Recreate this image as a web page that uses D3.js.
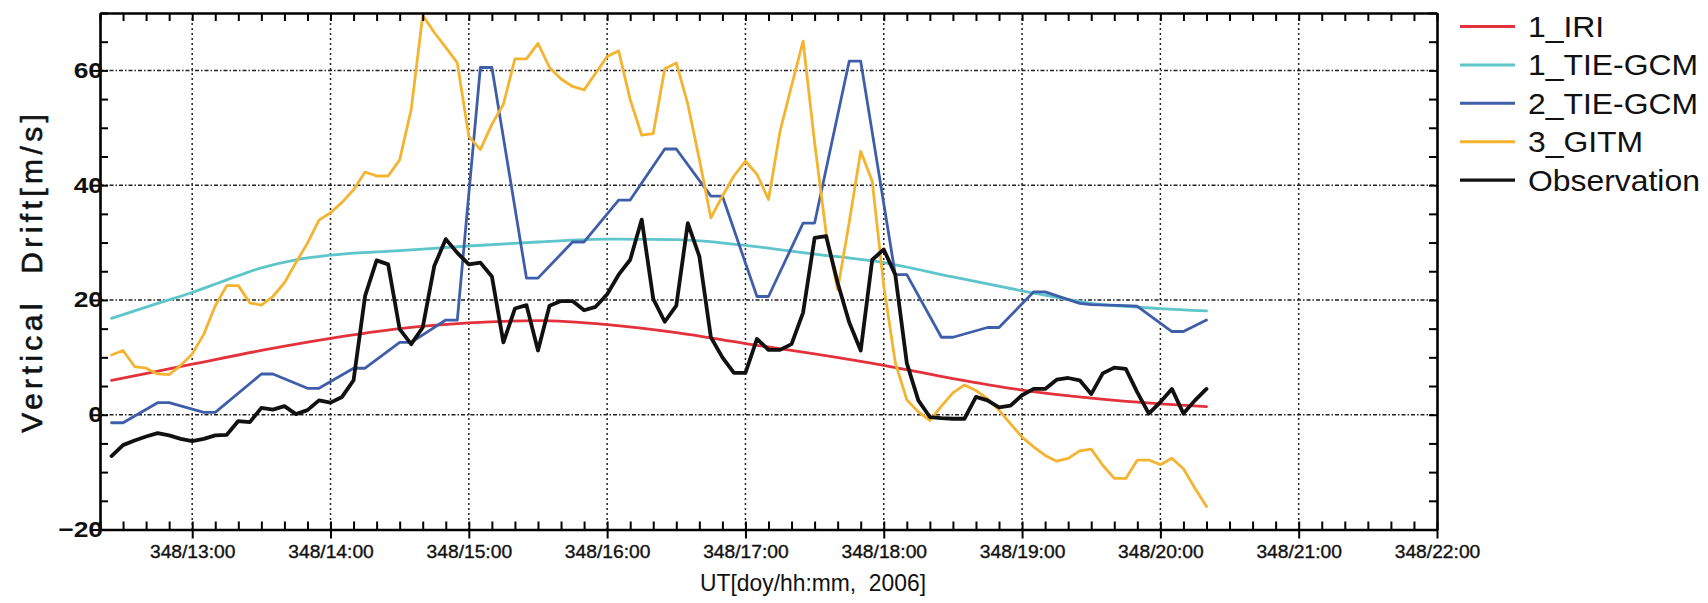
<!DOCTYPE html>
<meta charset="utf-8">
<style>
body { margin: 0; background: #fff; }
svg { display: block; font-family: "Liberation Sans", Arial, sans-serif; }
.axis path, .axis line { fill: none; stroke: #000; }
.axis path { stroke-width: 2.6; }
.axis line { stroke-width: 2; }
.grid line { stroke: #222; stroke-width: 1.5; }
.series { fill: none; stroke-linejoin: round; stroke-linecap: round; }
</style>
<body>
<script src="https://cdn.jsdelivr.net/npm/d3@7"></script>
<script>
// day 348 of 2006 = 14 Dec
var dayStart = Date.UTC(2006, 11, 14);
function ut(s) {
  var p = s.split(":");
  return new Date(dayStart + (+p[0] * 60 + +p[1]) * 60000);
}

// 5 minute sample times, 12:25 .. 20:20 (96 samples)
var t5 = d3.utcMinute.every(5).range(ut("12:25"), ut("20:25"));

var obsVals = [
  -7.2, -5.3, -4.5, -3.8, -3.2, -3.6, -4.2,
  -4.6, -4.2, -3.6, -3.5, -1.1, -1.3, 1.2, 0.9, 1.5, 0.1, 0.8, 2.5,
  2.1, 3.1, 6.0, 20.7, 26.9, 26.2, 14.9, 12.3, 15.2, 25.9, 30.6, 28.2,
  26.2, 26.5, 24.1, 12.6, 18.5, 19.1, 11.2, 19.0, 19.8, 19.8, 18.2, 18.8,
  21.0, 24.4, 27.0, 34.0, 20.2, 16.2, 19.0, 33.4, 27.6, 13.5, 10.0, 7.3,
  7.3, 13.2, 11.3, 11.3, 12.3, 17.8, 30.8, 31.1, 23.0, 16.1, 11.2, 27.0,
  28.8, 24.4, 9.0, 2.5, -0.4, -0.6, -0.7, -0.7, 3.1, 2.5, 1.3, 1.6,
  3.4, 4.5, 4.5, 6.1, 6.4, 6.0, 3.6, 7.2, 8.2, 8.0, 3.9, 0.2,
  2.2, 4.5, 0.2, 2.5, 4.5
];

var gitmVals = [
  10.4, 11.2, 8.4, 8.1, 7.1, 7.0, 8.6,
  10.6, 14.0, 19.0, 22.5, 22.5, 19.5, 19.1, 20.6, 23.0, 26.5, 29.9, 33.9,
  35.2, 37.0, 39.2, 42.3, 41.6, 41.6, 44.4, 53.2, 69.6, 66.6, 64.0, 61.3,
  48.5, 46.2, 50.6, 54.1, 62.0, 62.0, 64.7, 60.5, 58.5, 57.2, 56.6, 59.5,
  62.4, 63.4, 54.9, 48.7, 49.0, 60.3, 61.3, 54.1, 44.5, 34.3, 38.1, 41.6,
  44.2, 41.9, 37.5, 49.4, 57.3, 65.1, 47.4, 31.7, 21.8, 33.5, 45.9, 40.7,
  22.4, 9.1, 2.6, 0.5, -1.0, 1.5, 3.8, 5.2, 4.2, 2.8, 0.8, -1.6,
  -3.9, -5.6, -7.1, -8.1, -7.6, -6.3, -6.0, -8.8, -11.1, -11.1, -7.9, -7.9,
  -8.7, -7.6, -9.4, -12.8, -16.0
];

var tie2Times = ["12:25", "12:30", "12:45", "12:50", "13:05", "13:10", "13:30", "13:35",
  "13:50", "13:55", "14:10", "14:15", "14:30", "14:35", "14:50", "14:55",
  "15:05", "15:10", "15:25", "15:30", "15:45", "15:50", "16:05", "16:10",
  "16:25", "16:30", "16:45", "16:50", "17:05", "17:10", "17:25", "17:30",
  "17:45", "17:50", "18:05", "18:10", "18:25", "18:30", "18:45", "18:50",
  "19:05", "19:10", "19:25", "19:30", "19:45", "19:50", "20:05", "20:10", "20:20"];
var tie2Vals = [-1.4, -1.4, 2.1, 2.1, 0.4, 0.4, 7.1, 7.1,
  4.6, 4.6, 8.1, 8.1, 12.6, 12.6, 16.5, 16.5,
  60.5, 60.5, 23.8, 23.8, 30.1, 30.1, 37.4, 37.4,
  46.3, 46.3, 38.1, 38.1, 20.6, 20.6, 33.4, 33.4,
  61.6, 61.6, 24.4, 24.4, 13.5, 13.5, 15.2, 15.2,
  21.4, 21.4, 19.4, 19.2, 19.0, 18.9, 14.5, 14.5, 16.5];

var iriTimes = ["12:25", "13:00", "13:30", "14:00", "14:30", "15:00", "15:30", "16:00", "16:30",
  "17:00", "17:30", "18:00", "18:30", "19:00", "19:30", "20:00", "20:20"];
var iriVals = [6.0, 8.8, 11.2, 13.3, 15.0, 16.0, 16.4, 15.7, 14.3,
  12.4, 10.6, 8.6, 6.3, 4.3, 2.9, 1.9, 1.4];

var tie1Times = ["12:25", "12:45", "13:00", "13:15", "13:30", "13:45", "14:00", "14:30", "15:00",
  "15:30", "16:00", "16:30", "17:00", "17:30", "18:00", "18:30", "19:00", "19:30", "20:00", "20:20"];
var tie1Vals = [16.8, 19.4, 21.3, 23.5, 25.6, 27.0, 27.8, 28.6, 29.4,
  30.1, 30.6, 30.5, 29.5, 28.0, 26.5, 24.0, 21.6, 19.4, 18.5, 18.1];

var yMajor = [-20, 0, 20, 40, 60];

var series = [
  {name: "1_TIE-GCM", color: "#5ec5ca", w: 2.8, curve: d3.curveMonotoneX, pts: d3.zip(tie1Times.map(ut), tie1Vals)},
  {name: "1_IRI", color: "#e3323c", w: 2.8, curve: d3.curveMonotoneX, pts: d3.zip(iriTimes.map(ut), iriVals)},
  {name: "2_TIE-GCM", color: "#3f5ea9", w: 2.8, curve: d3.curveLinear, pts: d3.zip(tie2Times.map(ut), tie2Vals)},
  {name: "3_GITM", color: "#f4b430", w: 2.8, curve: d3.curveLinear, pts: d3.zip(t5, gitmVals)},
  {name: "Observation", color: "#111", w: 3.8, curve: d3.curveLinear, pts: d3.zip(t5, obsVals)}
];
var legendOrder = ["1_IRI", "1_TIE-GCM", "2_TIE-GCM", "3_GITM", "Observation"];

var W = 1708, H = 603;
var plotL = 100, plotR = 1437, plotT = 13, plotB = 529.5;

var svg = d3.select("body").append("svg").attr("width", W).attr("height", H);

var x = d3.scaleUtc().domain([ut("12:20"), ut("22:00")]).range([plotL, plotR]);
var y = d3.scaleLinear().domain([-20, 70]).range([plotB, plotT]);

// grid
var grid = svg.append("g").attr("class", "grid");
grid.selectAll(".v").data(x.ticks(d3.utcHour.every(1)).slice(0, -1))
  .enter().append("line")
    .attr("x1", d => x(d)).attr("x2", d => x(d))
    .attr("y1", plotT).attr("y2", plotB)
    .attr("stroke-dasharray", "2,3");
grid.selectAll(".h").data(yMajor.slice(1))
  .enter().append("line")
    .attr("x1", plotL).attr("x2", plotR)
    .attr("y1", d => y(d)).attr("y2", d => y(d))
    .attr("stroke-dasharray", "4,2,1.5,2");

// series
var line = d3.line().x(d => x(d[0])).y(d => y(d[1]));
svg.selectAll(".series").data(series)
  .enter().append("path")
    .attr("class", "series")
    .attr("stroke", d => d.color)
    .attr("stroke-width", d => d.w)
    .attr("d", d => line.curve(d.curve)(d.pts));

// axes
var minorX = d3.utcMinute.every(10), minorY = d3.range(-20, 75, 5);

svg.append("g").attr("class", "axis").attr("transform", "translate(0," + plotB + ")")
  .call(d3.axisBottom(x).ticks(minorX).tickSize(-8).tickSizeOuter(0).tickFormat(""));
var xl = svg.append("g").attr("class", "axis").attr("transform", "translate(0," + plotB + ")")
  .call(d3.axisBottom(x).ticks(d3.utcHour.every(1)).tickSize(9).tickSizeOuter(0)
    .tickPadding(7).tickFormat(d3.utcFormat("%j/%H:%M")));
xl.select(".domain").remove();
xl.selectAll("text")
  .style("font-size", "17.5px")
  .attr("fill", "#111")
  .attr("stroke", "#111")
  .attr("stroke-width", 0.35)
  .attr("transform", "scale(1.1,1)");

svg.append("g").attr("class", "axis").attr("transform", "translate(0," + plotT + ")")
  .call(d3.axisTop(x).ticks(minorX).tickSize(-8).tickSizeOuter(0).tickFormat(""));

svg.append("g").attr("class", "axis").attr("transform", "translate(" + plotL + ",0)")
  .call(d3.axisLeft(y).tickValues(minorY).tickSize(-8).tickSizeOuter(0).tickFormat(""));
var yl = svg.append("g").attr("class", "axis").attr("transform", "translate(" + plotL + ",0)")
  .call(d3.axisLeft(y).tickValues(yMajor).tickSize(8).tickSizeOuter(0));
yl.select(".domain").remove();
yl.selectAll("text")
  .style("font-size", "22px")
  .style("font-weight", "bold")
  .attr("fill", "#111")
  .attr("x", 2.5)
  .attr("transform", "scale(1.2,1)");

svg.append("g").attr("class", "axis").attr("transform", "translate(" + plotR + ",0)")
  .call(d3.axisRight(y).tickValues(minorY).tickSize(-8).tickSizeOuter(0).tickFormat(""));

// titles
svg.append("text")
  .attr("x", 813).attr("y", 591)
  .attr("text-anchor", "middle")
  .attr("textLength", 226)
  .attr("lengthAdjust", "spacingAndGlyphs")
  .style("font-size", "24.5px")
  .style("white-space", "pre")
  .attr("fill", "#111")
  .text("UT[doy/hh:mm,  2006]");

svg.append("text")
  .attr("transform", "translate(42," + (plotB + plotT) / 2 + ") rotate(-90)")
  .attr("text-anchor", "middle")
  .style("font-size", "30px")
  .style("letter-spacing", "4.4px")
  .style("white-space", "pre")
  .attr("fill", "#111")
  .attr("stroke", "#111")
  .attr("stroke-width", 0.6)
  .text("Vertical  Drift[m/s]");

// legend
var byName = {};
series.forEach(s => byName[s.name] = s);
var legend = svg.selectAll(".legend").data(legendOrder)
  .enter().append("g")
    .attr("class", "legend")
    .attr("transform", (d, i) => "translate(0," + (26.5 + i * 38.4) + ")");
legend.append("line")
  .attr("x1", 1460).attr("x2", 1515)
  .attr("stroke", d => byName[d].color)
  .attr("stroke-width", d => d == "Observation" ? 3.4 : 3);
legend.append("text")
  .attr("transform", "translate(1528,0) scale(1.1,1)")
  .attr("dy", "0.36em")
  .style("font-size", "29px")
  .attr("fill", "#111")
  .text(d => d);
</script>
